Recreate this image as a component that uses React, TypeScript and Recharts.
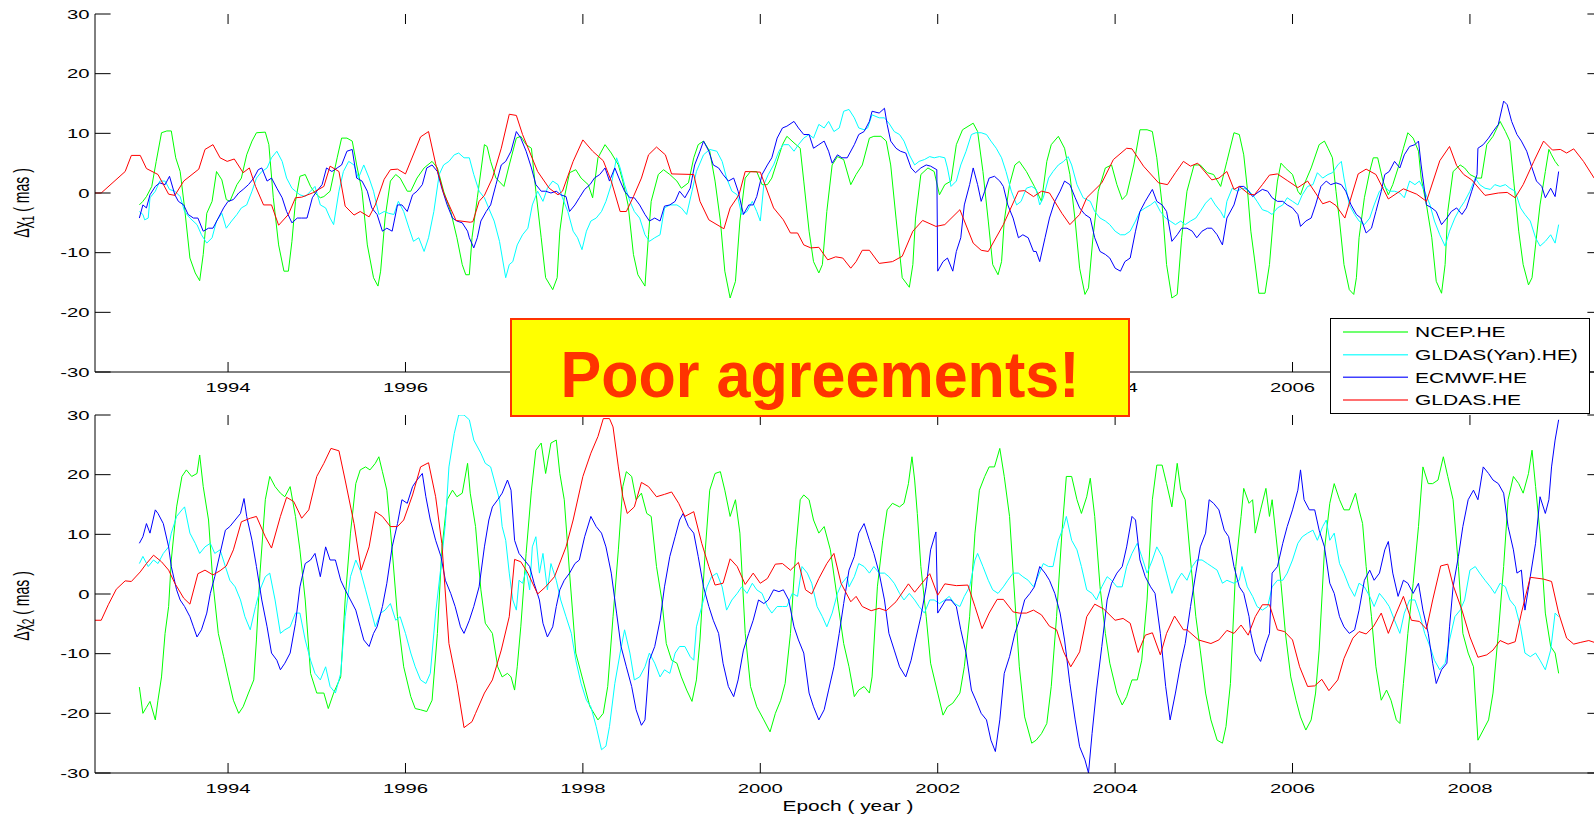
import React from 'react';
import { LineChart, Line, XAxis, YAxis } from 'recharts';

// ---------- data: [epoch (year), excitation (mas)] ----------

// Δχ1, NCEP.HE
const chi1Ncep: [number, number][] = [
  [1993.00,-2.0],[1993.04,-1.4],[1993.08,-0.6],[1993.14,1.1],[1993.19,5.3],[1993.25,10.1],[1993.31,10.4],[1993.36,10.4],[1993.41,5.9],[1993.46,3.6],[1993.51,-2.5],[1993.57,-10.9],[1993.63,-13.4],[1993.68,-14.7],[1993.72,-10.3],[1993.76,-3.4],[1993.82,-1.4],[1993.87,3.6],[1993.93,2.2],[1993.98,-1.1],[1994.02,-1.4],[1994.10,1.4],[1994.15,2.5],[1994.21,6.4],[1994.27,8.7],[1994.32,10.1],[1994.42,10.2],[1994.46,8.1],[1994.51,-0.8],[1994.57,-8.7],[1994.63,-13.1],[1994.68,-13.1],[1994.72,-8.1],[1994.76,-1.4],[1994.81,2.8],[1994.87,3.1],[1994.93,1.1],[1994.98,0],[1995.04,-0.8],[1995.08,-0.6],[1995.15,0.3],[1995.23,5.9],[1995.28,9.2],[1995.34,9.2],[1995.40,8.7],[1995.45,4.7],[1995.51,0.3],[1995.57,-8.7],[1995.64,-14.2],[1995.69,-15.6],[1995.72,-13.1],[1995.77,-4.2],[1995.83,2.0],[1995.89,3.1],[1995.94,2.5],[1996.02,0.3],[1996.06,0.3],[1996.13,2.5],[1996.21,4.2],[1996.30,5.3],[1996.36,4.2],[1996.43,0.3],[1996.51,-3.1],[1996.58,-7.5],[1996.64,-12.0],[1996.68,-13.7],[1996.72,-13.7],[1996.75,-7.5],[1996.81,-0.8],[1996.89,8.1],[1996.92,7.8],[1996.96,5.3],[1997.02,2.5],[1997.11,1.1],[1997.17,4.7],[1997.25,9.2],[1997.30,9.5],[1997.36,8.1],[1997.42,7.5],[1997.47,0.3],[1997.53,-7.5],[1997.58,-14.2],[1997.66,-16.2],[1997.71,-14.2],[1997.74,-6.4],[1997.79,-0.8],[1997.85,3.4],[1997.92,3.9],[1997.98,2.5],[1998.06,1.4],[1998.11,-0.8],[1998.17,5.9],[1998.25,8.1],[1998.32,6.7],[1998.40,4.7],[1998.45,2.0],[1998.51,-2.0],[1998.57,-10.3],[1998.62,-13.7],[1998.70,-15.6],[1998.74,-7.0],[1998.77,-1.4],[1998.85,3.1],[1998.91,3.9],[1998.98,3.1],[1999.06,2.0],[1999.11,0.8],[1999.19,1.7],[1999.25,5.9],[1999.30,8.1],[1999.36,8.7],[1999.43,7.0],[1999.49,2.0],[1999.55,-4.7],[1999.60,-13.1],[1999.66,-17.6],[1999.72,-14.8],[1999.77,-4.7],[1999.83,2.5],[1999.89,3.6],[1999.96,3.6],[2000.02,1.4],[2000.08,1.4],[2000.13,2.5],[2000.19,5.3],[2000.25,8.1],[2000.30,9.5],[2000.38,8.4],[2000.45,7.5],[2000.49,2.0],[2000.55,-6.4],[2000.60,-11.5],[2000.66,-13.4],[2000.70,-12.0],[2000.75,-3.1],[2000.81,4.7],[2000.87,6.1],[2000.94,5.6],[2001.02,1.4],[2001.08,3.1],[2001.15,4.7],[2001.23,9.2],[2001.28,9.5],[2001.36,9.5],[2001.42,8.7],[2001.47,4.7],[2001.53,-4.2],[2001.60,-14.2],[2001.68,-15.8],[2001.72,-12.0],[2001.75,-4.2],[2001.81,3.1],[2001.89,4.2],[2001.96,3.6],[2002.02,-0.3],[2002.08,1.4],[2002.15,2.0],[2002.21,8.1],[2002.28,10.6],[2002.40,11.7],[2002.45,10.3],[2002.51,3.6],[2002.57,-4.7],[2002.62,-12.0],[2002.68,-13.7],[2002.72,-11.5],[2002.75,-4.7],[2002.81,1.4],[2002.87,4.7],[2002.92,5.3],[2003.00,3.6],[2003.09,1.1],[2003.17,-1.4],[2003.23,5.3],[2003.28,8.1],[2003.36,9.5],[2003.43,7.5],[2003.49,3.1],[2003.55,-4.7],[2003.60,-12.6],[2003.66,-17.0],[2003.70,-15.9],[2003.75,-7.5],[2003.81,0.3],[2003.89,4.2],[2003.96,4.7],[2004.02,1.4],[2004.08,-1.1],[2004.13,-0.3],[2004.21,4.7],[2004.28,10.6],[2004.36,10.6],[2004.42,10.3],[2004.47,5.9],[2004.53,-2.0],[2004.58,-12.0],[2004.64,-17.6],[2004.70,-17.0],[2004.75,-7.5],[2004.81,0.3],[2004.89,4.7],[2004.96,4.7],[2005.04,3.4],[2005.11,3.1],[2005.19,1.1],[2005.26,5.3],[2005.34,10.1],[2005.40,9.8],[2005.45,6.4],[2005.49,0.8],[2005.53,-6.4],[2005.57,-10.9],[2005.62,-16.8],[2005.69,-16.8],[2005.74,-12.0],[2005.79,-3.1],[2005.83,2.0],[2005.87,5.0],[2005.92,4.2],[2006.00,3.1],[2006.06,0.3],[2006.09,-0.3],[2006.13,1.4],[2006.21,4.2],[2006.30,8.1],[2006.36,8.7],[2006.40,7.5],[2006.45,5.9],[2006.49,0.3],[2006.53,-4.7],[2006.58,-12.0],[2006.64,-16.2],[2006.69,-17.0],[2006.72,-14.2],[2006.75,-7.5],[2006.81,-0.8],[2006.87,3.6],[2006.91,5.9],[2006.96,5.9],[2007.02,2.0],[2007.08,-0.3],[2007.13,1.4],[2007.19,4.2],[2007.25,7.5],[2007.30,10.1],[2007.36,9.2],[2007.42,7.0],[2007.45,2.5],[2007.51,-2.0],[2007.57,-7.5],[2007.62,-14.8],[2007.68,-16.8],[2007.72,-12.0],[2007.75,-3.1],[2007.81,3.6],[2007.89,4.7],[2007.94,4.2],[2008.00,3.1],[2008.08,2.5],[2008.13,2.5],[2008.19,8.1],[2008.26,9.5],[2008.34,12.0],[2008.40,10.3],[2008.45,8.7],[2008.49,2.5],[2008.55,-6.4],[2008.60,-12.0],[2008.66,-15.4],[2008.70,-14.2],[2008.74,-8.7],[2008.79,-2.0],[2008.85,3.6],[2008.89,7.3],[2008.92,6.4],[2008.96,5.3],[2009.00,4.5],
];

// Δχ1, GLDAS(Yan).HE
const chi1GldasYan: [number, number][] = [
  [1993.00,-3.1],[1993.04,-3.6],[1993.06,-4.5],[1993.10,-4.2],[1993.12,-0.8],[1993.18,0.3],[1993.23,2.0],[1993.29,2.0],[1993.34,0.6],[1993.40,0.3],[1993.46,-0.6],[1993.51,-3.1],[1993.57,-4.2],[1993.65,-5.3],[1993.70,-7.0],[1993.76,-8.4],[1993.82,-7.5],[1993.87,-4.7],[1993.93,-3.4],[1993.98,-5.9],[1994.04,-4.7],[1994.10,-3.6],[1994.15,-2.5],[1994.21,-2.0],[1994.27,0.3],[1994.32,2.5],[1994.38,3.6],[1994.44,4.2],[1994.49,5.9],[1994.55,7.0],[1994.61,5.3],[1994.66,2.5],[1994.72,0.8],[1994.76,0.3],[1994.81,-0.3],[1994.87,-0.6],[1994.93,0.3],[1994.98,1.1],[1995.04,-2.0],[1995.10,-2.5],[1995.15,-4.2],[1995.19,-5.3],[1995.25,0.3],[1995.30,3.6],[1995.36,5.3],[1995.42,4.7],[1995.47,2.5],[1995.53,4.7],[1995.59,2.5],[1995.64,0.3],[1995.70,-3.6],[1995.76,-3.1],[1995.81,-3.4],[1995.87,-3.6],[1995.92,-1.4],[1995.98,-3.1],[1996.04,-5.9],[1996.09,-8.1],[1996.15,-7.5],[1996.21,-9.8],[1996.26,-7.5],[1996.32,-3.1],[1996.38,3.1],[1996.43,4.7],[1996.49,5.3],[1996.55,6.4],[1996.60,6.7],[1996.66,5.9],[1996.72,5.9],[1996.77,3.1],[1996.83,0.3],[1996.89,-0.8],[1996.94,-2.6],[1997.00,-4.7],[1997.06,-8.1],[1997.13,-14.2],[1997.17,-12.0],[1997.21,-11.5],[1997.26,-8.7],[1997.32,-7.0],[1997.38,-5.9],[1997.43,-2.0],[1997.49,0.3],[1997.55,-1.4],[1997.60,0.8],[1997.66,2.0],[1997.72,1.4],[1997.77,-0.8],[1997.83,-3.1],[1997.89,-6.4],[1997.94,-7.5],[1997.99,-9.5],[1998.04,-6.4],[1998.09,-4.7],[1998.15,-4.2],[1998.21,-3.1],[1998.26,-1.4],[1998.32,1.4],[1998.38,5.9],[1998.42,4.2],[1998.47,1.4],[1998.53,-1.4],[1998.58,-3.1],[1998.64,-4.2],[1998.70,-7.0],[1998.75,-8.1],[1998.81,-7.5],[1998.87,-7.0],[1998.92,-2.5],[1998.98,-2.0],[1999.06,-2.0],[1999.11,-2.5],[1999.17,-3.6],[1999.23,0.3],[1999.28,3.6],[1999.36,6.4],[1999.43,7.3],[1999.51,7.0],[1999.57,5.3],[1999.62,2.5],[1999.68,0.3],[1999.74,-0.3],[1999.79,-3.6],[1999.85,-3.1],[1999.91,-1.4],[1999.96,-3.1],[2000.00,-4.7],[2000.04,1.4],[2000.09,3.1],[2000.15,4.7],[2000.21,7.0],[2000.26,8.1],[2000.32,8.1],[2000.38,7.0],[2000.43,8.1],[2000.49,9.2],[2000.55,9.8],[2000.60,9.2],[2000.66,11.5],[2000.72,10.9],[2000.77,12.0],[2000.83,10.3],[2000.89,10.9],[2000.94,13.7],[2001.00,14.0],[2001.06,12.6],[2001.11,10.9],[2001.17,10.6],[2001.21,10.9],[2001.26,13.1],[2001.34,12.6],[2001.40,12.6],[2001.45,11.7],[2001.51,10.3],[2001.57,9.8],[2001.62,8.7],[2001.68,6.4],[2001.74,4.7],[2001.79,5.3],[2001.85,5.6],[2001.91,6.1],[2001.96,5.9],[2002.02,6.1],[2002.08,5.9],[2002.11,4.2],[2002.15,1.1],[2002.21,2.0],[2002.26,4.7],[2002.32,7.0],[2002.38,9.8],[2002.43,10.1],[2002.49,10.1],[2002.55,9.8],[2002.60,8.7],[2002.66,7.5],[2002.72,5.9],[2002.77,3.6],[2002.83,0.3],[2002.89,-2.0],[2002.94,-1.4],[2003.00,0.8],[2003.06,1.1],[2003.11,0.6],[2003.15,-2.0],[2003.19,-0.8],[2003.25,2.5],[2003.30,3.6],[2003.36,4.7],[2003.42,5.3],[2003.47,6.1],[2003.51,4.7],[2003.57,1.4],[2003.64,-0.8],[2003.72,-1.4],[2003.77,-3.1],[2003.83,-4.2],[2003.89,-4.7],[2003.94,-5.3],[2004.00,-6.4],[2004.06,-7.0],[2004.11,-7.0],[2004.17,-6.4],[2004.23,-4.7],[2004.28,-3.1],[2004.34,-2.5],[2004.40,-2.0],[2004.45,-1.4],[2004.51,-3.1],[2004.57,-4.2],[2004.62,-4.7],[2004.68,-5.3],[2004.74,-4.7],[2004.79,-5.3],[2004.85,-4.7],[2004.91,-4.2],[2004.96,-3.1],[2005.02,-1.7],[2005.08,-0.8],[2005.13,-2.0],[2005.19,-3.1],[2005.23,-4.2],[2005.26,-1.4],[2005.32,0.8],[2005.38,0.3],[2005.43,0.8],[2005.49,0.6],[2005.55,-0.3],[2005.60,-1.4],[2005.66,-2.8],[2005.72,-3.1],[2005.77,-3.6],[2005.83,-2.5],[2005.89,-2.0],[2005.94,-0.8],[2006.00,-1.4],[2006.06,-2.0],[2006.11,-0.3],[2006.17,1.1],[2006.23,1.4],[2006.28,3.4],[2006.34,2.5],[2006.40,3.1],[2006.45,3.4],[2006.51,4.7],[2006.55,5.3],[2006.58,2.5],[2006.64,-2.0],[2006.70,-3.6],[2006.75,-4.7],[2006.81,-5.3],[2006.87,-4.2],[2006.92,-2.0],[2006.98,0.3],[2007.04,1.1],[2007.09,0.3],[2007.15,0.3],[2007.21,0],[2007.26,-0.8],[2007.32,2.0],[2007.38,1.4],[2007.43,2.0],[2007.49,0.3],[2007.55,-2.0],[2007.60,-4.7],[2007.66,-7.0],[2007.72,-8.9],[2007.77,-6.4],[2007.83,-4.2],[2007.89,-2.5],[2007.94,-1.4],[2008.00,0.3],[2008.06,2.5],[2008.11,1.4],[2008.17,0.8],[2008.23,0.6],[2008.28,1.4],[2008.34,1.1],[2008.40,1.4],[2008.45,0.8],[2008.51,0.3],[2008.57,-2.5],[2008.62,-3.6],[2008.68,-4.7],[2008.74,-7.5],[2008.79,-8.9],[2008.85,-8.1],[2008.91,-7.0],[2008.96,-8.4],[2009.00,-5.3],
];

// Δχ1, ECMWF.HE (note the step at the start of 2002)
const chi1Ecmwf: [number, number][] = [
  [1993.00,-4.2],[1993.04,-2.0],[1993.08,-2.5],[1993.12,-0.3],[1993.18,1.1],[1993.23,1.7],[1993.29,1.4],[1993.34,2.8],[1993.40,-0.3],[1993.44,-1.4],[1993.50,-2.0],[1993.55,-3.6],[1993.61,-4.2],[1993.66,-4.2],[1993.72,-6.4],[1993.78,-5.9],[1993.83,-5.9],[1993.89,-4.2],[1993.95,-2.5],[1994.00,-1.4],[1994.06,-1.1],[1994.12,0],[1994.17,0.6],[1994.23,1.4],[1994.29,2.5],[1994.34,3.9],[1994.38,4.2],[1994.44,2.0],[1994.49,2.5],[1994.55,0.8],[1994.61,-0.8],[1994.66,-3.1],[1994.72,-5.0],[1994.78,-4.2],[1994.83,-4.2],[1994.89,-4.2],[1994.95,-0.8],[1995.00,0.3],[1995.06,1.4],[1995.11,4.2],[1995.17,3.6],[1995.23,4.2],[1995.28,4.7],[1995.34,7.0],[1995.40,7.3],[1995.45,2.5],[1995.51,2.0],[1995.57,0.3],[1995.62,-2.5],[1995.68,-3.6],[1995.74,-6.4],[1995.79,-5.9],[1995.85,-6.4],[1995.91,-2.0],[1995.96,-2.0],[1996.02,-3.1],[1996.08,-0.3],[1996.13,0.3],[1996.19,1.4],[1996.24,4.2],[1996.30,4.7],[1996.36,3.6],[1996.41,0.8],[1996.47,-2.0],[1996.53,-4.2],[1996.58,-4.7],[1996.64,-5.0],[1996.70,-6.4],[1996.72,-7.5],[1996.77,-9.2],[1996.81,-7.5],[1996.85,-4.7],[1996.91,-3.1],[1996.96,-2.0],[1997.02,1.4],[1997.08,4.7],[1997.13,5.3],[1997.19,7.0],[1997.25,10.3],[1997.30,9.2],[1997.36,7.0],[1997.42,4.2],[1997.47,1.4],[1997.53,0.3],[1997.58,0.3],[1997.64,0],[1997.70,0.3],[1997.75,-0.3],[1997.81,-0.6],[1997.85,-3.1],[1997.91,-2.0],[1997.96,-0.8],[1998.02,0.6],[1998.08,1.4],[1998.13,2.5],[1998.19,3.1],[1998.25,4.2],[1998.30,2.0],[1998.36,4.2],[1998.42,2.0],[1998.47,0.3],[1998.53,-0.8],[1998.58,-0.8],[1998.64,-2.0],[1998.70,-3.6],[1998.75,-4.7],[1998.81,-4.2],[1998.87,-4.7],[1998.92,-2.2],[1998.98,-2.0],[1999.04,-1.4],[1999.09,0.3],[1999.15,-0.8],[1999.21,0.8],[1999.26,4.7],[1999.32,7.0],[1999.36,8.7],[1999.42,7.0],[1999.47,4.7],[1999.53,4.2],[1999.58,3.1],[1999.64,2.0],[1999.70,2.5],[1999.75,0.3],[1999.81,-3.6],[1999.87,-2.0],[1999.92,-2.0],[1999.96,-0.6],[2000.02,3.1],[2000.08,4.7],[2000.13,5.9],[2000.19,9.2],[2000.25,10.9],[2000.30,11.2],[2000.38,12.0],[2000.43,10.9],[2000.49,9.8],[2000.55,9.8],[2000.60,7.5],[2000.66,8.1],[2000.72,8.7],[2000.77,7.0],[2000.81,5.0],[2000.87,6.4],[2000.92,5.9],[2000.98,5.9],[2001.06,8.1],[2001.11,9.8],[2001.17,10.3],[2001.23,12.0],[2001.26,13.7],[2001.34,13.4],[2001.40,14.2],[2001.43,11.5],[2001.47,8.7],[2001.53,7.5],[2001.58,7.0],[2001.64,6.7],[2001.70,4.2],[2001.75,3.4],[2001.81,4.2],[2001.87,4.7],[2001.92,4.5],[2001.99,3.9],[2002.00,-13.1],[2002.06,-11.5],[2002.11,-10.9],[2002.17,-13.1],[2002.21,-9.8],[2002.26,-7.5],[2002.30,-2.0],[2002.36,1.4],[2002.40,4.2],[2002.45,1.4],[2002.49,-1.4],[2002.53,0.3],[2002.58,2.5],[2002.64,2.8],[2002.70,2.0],[2002.74,1.1],[2002.79,-2.0],[2002.85,-4.2],[2002.91,-7.5],[2002.96,-7.0],[2003.02,-7.5],[2003.08,-9.8],[2003.11,-9.8],[2003.15,-11.5],[2003.21,-7.5],[2003.26,-4.2],[2003.32,-1.4],[2003.38,0.3],[2003.43,2.0],[2003.49,1.4],[2003.55,-0.8],[2003.60,-2.5],[2003.66,-3.6],[2003.72,-4.2],[2003.77,-7.5],[2003.83,-9.8],[2003.89,-10.3],[2003.94,-10.9],[2004.00,-12.6],[2004.06,-13.1],[2004.11,-11.5],[2004.17,-10.9],[2004.23,-6.4],[2004.28,-3.1],[2004.34,-1.4],[2004.42,0.6],[2004.47,-1.4],[2004.53,-2.0],[2004.58,-3.1],[2004.64,-8.1],[2004.70,-7.0],[2004.75,-5.9],[2004.81,-5.9],[2004.87,-6.4],[2004.92,-7.5],[2004.98,-6.4],[2005.04,-5.9],[2005.09,-5.9],[2005.15,-7.0],[2005.21,-8.7],[2005.26,-4.2],[2005.34,-2.0],[2005.40,1.1],[2005.45,1.1],[2005.49,0.6],[2005.55,-0.6],[2005.60,0],[2005.66,0.6],[2005.72,0.3],[2005.77,-0.8],[2005.83,-1.4],[2005.89,-1.4],[2005.94,-2.0],[2006.00,-2.5],[2006.06,-3.6],[2006.09,-5.6],[2006.15,-4.7],[2006.21,-4.2],[2006.26,-2.0],[2006.32,1.1],[2006.38,2.0],[2006.43,1.4],[2006.49,1.7],[2006.55,1.4],[2006.60,0.3],[2006.66,-2.0],[2006.72,-3.6],[2006.77,-4.2],[2006.83,-6.7],[2006.89,-5.9],[2006.94,-3.1],[2007.00,0.3],[2007.04,3.1],[2007.09,3.6],[2007.15,5.3],[2007.21,4.2],[2007.26,6.4],[2007.32,7.8],[2007.38,8.1],[2007.42,8.7],[2007.45,4.7],[2007.51,-2.0],[2007.57,-2.5],[2007.62,-3.1],[2007.68,-5.3],[2007.74,-4.2],[2007.79,-3.1],[2007.85,-2.5],[2007.91,-3.6],[2007.96,-2.5],[2008.02,0.3],[2008.08,3.1],[2008.09,7.5],[2008.15,8.1],[2008.21,9.2],[2008.26,10.3],[2008.32,11.5],[2008.38,15.4],[2008.42,14.8],[2008.47,12.0],[2008.53,9.8],[2008.58,8.7],[2008.64,7.0],[2008.70,4.2],[2008.75,2.0],[2008.81,1.1],[2008.85,-0.8],[2008.91,0.8],[2008.96,-0.6],[2009.00,3.6],
];

// Δχ1, GLDAS.HE
const chi1Gldas: [number, number][] = [
  [1992.50,0],[1992.57,0],[1992.84,3.6],[1992.91,6.3],[1993.01,6.3],[1993.08,4.1],[1993.21,3.1],[1993.33,-0.2],[1993.40,-0.4],[1993.50,2.0],[1993.67,4.0],[1993.74,7.3],[1993.83,8.1],[1993.91,5.9],[1993.99,5.3],[1994.07,5.7],[1994.17,3.4],[1994.24,4.2],[1994.31,1.1],[1994.40,-2.0],[1994.49,-2.0],[1994.57,-5.4],[1994.68,-3.6],[1994.76,-0.8],[1994.83,-0.7],[1994.95,0],[1995.08,1.1],[1995.15,4.5],[1995.25,3.6],[1995.32,-2.2],[1995.42,-3.7],[1995.49,-3.1],[1995.59,-4.0],[1995.66,-2.0],[1995.76,2.3],[1995.83,3.9],[1995.91,4.0],[1996.00,3.2],[1996.17,9.4],[1996.26,10.3],[1996.34,4.9],[1996.43,0],[1996.57,-4.6],[1996.73,-4.9],[1996.76,-4.8],[1996.83,-1.4],[1996.89,-0.4],[1996.98,2.5],[1997.08,7.5],[1997.17,13.2],[1997.25,13.0],[1997.32,9.8],[1997.49,3.6],[1997.62,0.8],[1997.72,-0.3],[1997.77,0.3],[1997.89,5.3],[1998.00,8.9],[1998.11,7.0],[1998.23,5.4],[1998.32,2.0],[1998.42,-3.1],[1998.49,-3.1],[1998.57,-0.6],[1998.66,2.5],[1998.74,6.4],[1998.83,7.7],[1998.93,6.4],[1999.00,3.2],[1999.25,3.1],[1999.32,-1.4],[1999.42,-4.5],[1999.59,-6.0],[1999.66,-2.5],[1999.76,-0.3],[1999.83,3.6],[2000.00,3.5],[2000.15,-2.5],[2000.26,-4.5],[2000.34,-6.7],[2000.42,-6.7],[2000.49,-8.7],[2000.57,-9.2],[2000.66,-9.1],[2000.76,-11.2],[2000.85,-10.7],[2000.93,-10.9],[2001.02,-12.6],[2001.08,-11.5],[2001.15,-9.6],[2001.23,-9.6],[2001.34,-11.8],[2001.49,-11.5],[2001.60,-10.6],[2001.72,-6.4],[2001.83,-4.6],[2001.98,-5.6],[2002.08,-5.3],[2002.25,-2.8],[2002.40,-8.4],[2002.49,-9.6],[2002.57,-9.8],[2002.74,-5.3],[2002.91,0.3],[2002.98,0.4],[2003.08,-0.6],[2003.17,0.3],[2003.26,0],[2003.40,-3.4],[2003.49,-5.3],[2003.60,-3.6],[2003.68,-0.8],[2003.85,1.7],[2003.98,5.6],[2004.13,7.5],[2004.19,7.4],[2004.32,4.5],[2004.49,1.7],[2004.59,1.4],[2004.68,3.4],[2004.77,5.3],[2004.85,4.5],[2004.93,5.0],[2005.09,2.2],[2005.17,2.5],[2005.26,3.6],[2005.34,0.6],[2005.40,1.1],[2005.51,-0.2],[2005.57,-0.3],[2005.66,1.4],[2005.74,3.0],[2005.83,3.2],[2005.94,2.1],[2006.06,0.9],[2006.17,2.0],[2006.34,-1.8],[2006.42,-1.4],[2006.49,-2.1],[2006.59,-4.2],[2006.74,3.2],[2006.83,4.0],[2006.94,3.1],[2007.08,-1.0],[2007.25,0.7],[2007.40,-0.2],[2007.51,-1.4],[2007.66,5.4],[2007.77,7.8],[2007.85,4.6],[2007.93,3.1],[2008.02,2.2],[2008.17,-0.4],[2008.32,0],[2008.42,0.1],[2008.51,-0.8],[2008.60,1.4],[2008.72,5.3],[2008.83,8.7],[2008.93,7.2],[2009.02,7.3],[2009.09,6.7],[2009.17,7.4],[2009.28,5.3],[2009.40,2.5],[2009.50,1.2],
];

// Δχ2, NCEP.HE
const chi2Ncep: [number, number][] = [
  [1993.00,-15.6],[1993.04,-20.0],[1993.08,-19.0],[1993.12,-18.0],[1993.18,-21.1],[1993.21,-17.8],[1993.25,-13.9],[1993.29,-6.6],[1993.33,-2.1],[1993.36,5.7],[1993.42,14.6],[1993.48,19.7],[1993.53,20.8],[1993.59,19.7],[1993.65,20.2],[1993.68,23.3],[1993.72,18.0],[1993.78,12.4],[1993.83,1.8],[1993.89,-6.6],[1993.95,-10.5],[1994.00,-13.9],[1994.06,-17.8],[1994.12,-20.0],[1994.17,-18.9],[1994.23,-16.6],[1994.29,-14.4],[1994.32,-7.7],[1994.36,3.5],[1994.42,15.8],[1994.47,19.7],[1994.53,18.0],[1994.59,16.9],[1994.64,16.3],[1994.70,18.0],[1994.76,13.0],[1994.81,7.4],[1994.87,-1.0],[1994.93,-13.3],[1995.00,-16.6],[1995.08,-16.6],[1995.13,-19.2],[1995.19,-16.6],[1995.27,-13.9],[1995.32,-1.0],[1995.38,10.2],[1995.44,18.5],[1995.49,20.8],[1995.55,21.3],[1995.60,20.8],[1995.66,21.9],[1995.70,23.0],[1995.74,20.5],[1995.79,17.4],[1995.85,7.4],[1995.91,-3.8],[1995.98,-12.2],[1996.06,-17.2],[1996.11,-19.2],[1996.17,-19.4],[1996.24,-19.7],[1996.30,-17.8],[1996.36,-6.6],[1996.41,7.4],[1996.47,15.8],[1996.53,17.4],[1996.58,16.3],[1996.64,16.9],[1996.70,21.9],[1996.73,16.9],[1996.79,11.3],[1996.85,0.7],[1996.90,-4.9],[1996.98,-6.6],[1997.04,-12.2],[1997.09,-13.9],[1997.15,-13.3],[1997.19,-13.9],[1997.23,-16.1],[1997.26,-12.2],[1997.30,-5.5],[1997.36,6.8],[1997.42,17.4],[1997.47,24.1],[1997.53,25.3],[1997.58,20.2],[1997.64,25.3],[1997.70,25.8],[1997.74,20.2],[1997.79,15.8],[1997.85,3.5],[1997.92,-9.9],[1998.00,-14.4],[1998.08,-18.9],[1998.17,-21.1],[1998.23,-20.0],[1998.28,-15.5],[1998.34,-3.8],[1998.40,7.4],[1998.45,18.0],[1998.49,20.5],[1998.55,19.7],[1998.60,15.8],[1998.66,16.9],[1998.72,13.5],[1998.77,13.0],[1998.83,4.6],[1998.89,-1.0],[1998.94,-8.3],[1999.00,-11.1],[1999.06,-11.6],[1999.11,-13.9],[1999.17,-16.1],[1999.23,-18.0],[1999.28,-14.4],[1999.32,-7.7],[1999.38,7.4],[1999.43,17.4],[1999.49,20.2],[1999.55,20.5],[1999.60,17.4],[1999.66,13.0],[1999.72,15.8],[1999.77,10.2],[1999.83,-6.6],[1999.89,-15.5],[1999.96,-18.9],[2000.04,-21.1],[2000.11,-23.1],[2000.17,-20.0],[2000.23,-17.8],[2000.28,-15.0],[2000.34,-6.6],[2000.40,7.4],[2000.45,15.8],[2000.49,16.6],[2000.55,15.8],[2000.60,12.4],[2000.66,10.2],[2000.72,11.3],[2000.79,7.4],[2000.87,-1.0],[2000.94,-8.3],[2001.00,-12.2],[2001.06,-17.2],[2001.11,-16.1],[2001.17,-15.5],[2001.23,-16.6],[2001.26,-13.9],[2001.32,1.2],[2001.38,9.0],[2001.43,14.1],[2001.49,15.2],[2001.57,14.6],[2001.62,15.2],[2001.67,18.5],[2001.71,23.0],[2001.74,19.1],[2001.77,13.5],[2001.81,4.6],[2001.87,-3.8],[2001.92,-11.6],[2002.00,-16.6],[2002.06,-20.3],[2002.11,-18.9],[2002.17,-18.3],[2002.25,-16.6],[2002.30,-12.2],[2002.36,-3.8],[2002.42,10.2],[2002.47,17.4],[2002.53,19.7],[2002.58,21.3],[2002.64,21.3],[2002.70,24.4],[2002.75,19.7],[2002.81,13.0],[2002.87,-1.0],[2002.92,-12.2],[2002.98,-20.6],[2003.06,-25.0],[2003.11,-24.5],[2003.17,-23.4],[2003.23,-21.7],[2003.28,-15.5],[2003.34,-3.8],[2003.40,10.2],[2003.45,19.7],[2003.51,19.7],[2003.57,15.8],[2003.62,13.5],[2003.68,16.3],[2003.72,19.4],[2003.77,13.0],[2003.83,1.2],[2003.89,-6.6],[2003.94,-11.6],[2004.02,-16.6],[2004.08,-18.6],[2004.13,-17.2],[2004.19,-14.4],[2004.25,-14.4],[2004.30,-11.1],[2004.36,-1.0],[2004.42,15.8],[2004.47,21.6],[2004.53,21.6],[2004.58,18.5],[2004.64,14.6],[2004.70,21.9],[2004.74,17.4],[2004.79,15.8],[2004.85,5.7],[2004.91,-3.8],[2004.96,-9.4],[2005.02,-16.6],[2005.08,-21.1],[2005.15,-24.5],[2005.21,-25.0],[2005.25,-22.2],[2005.30,-15.0],[2005.36,4.6],[2005.42,13.0],[2005.45,17.7],[2005.51,15.2],[2005.55,15.8],[2005.58,10.2],[2005.64,14.1],[2005.70,17.7],[2005.74,13.0],[2005.77,15.8],[2005.81,10.2],[2005.87,1.8],[2005.92,-6.6],[2005.98,-13.9],[2006.04,-17.8],[2006.09,-20.6],[2006.15,-22.8],[2006.21,-21.1],[2006.26,-16.6],[2006.30,-9.4],[2006.36,7.4],[2006.42,15.2],[2006.47,18.5],[2006.53,15.8],[2006.58,14.1],[2006.64,14.1],[2006.71,16.9],[2006.75,14.1],[2006.79,11.8],[2006.83,4.6],[2006.89,-3.8],[2006.94,-12.2],[2007.00,-17.8],[2007.06,-16.1],[2007.11,-17.8],[2007.17,-21.1],[2007.21,-21.7],[2007.25,-15.0],[2007.30,-6.6],[2007.36,1.8],[2007.42,11.3],[2007.47,21.3],[2007.53,18.5],[2007.58,18.5],[2007.64,19.1],[2007.70,23.0],[2007.75,19.7],[2007.81,15.8],[2007.87,4.6],[2007.92,-6.6],[2007.98,-9.9],[2008.04,-12.2],[2008.09,-24.5],[2008.15,-22.8],[2008.21,-21.1],[2008.26,-16.6],[2008.32,-6.6],[2008.38,4.6],[2008.43,15.8],[2008.49,19.7],[2008.55,18.5],[2008.60,16.9],[2008.66,20.2],[2008.70,24.1],[2008.74,18.0],[2008.79,10.2],[2008.85,-3.2],[2008.91,-8.8],[2008.96,-9.9],[2009.00,-13.3],
];

// Δχ2, GLDAS(Yan).HE
const chi2GldasYan: [number, number][] = [
  [1993.00,5.1],[1993.04,6.3],[1993.10,4.6],[1993.16,5.7],[1993.21,5.1],[1993.27,6.8],[1993.33,7.9],[1993.36,10.2],[1993.42,13.0],[1993.48,14.1],[1993.51,14.6],[1993.57,10.2],[1993.63,8.5],[1993.68,6.8],[1993.74,7.9],[1993.80,8.5],[1993.85,6.8],[1993.91,7.4],[1993.97,4.6],[1994.02,2.3],[1994.08,1.2],[1994.14,-1.0],[1994.19,-3.8],[1994.25,-6.0],[1994.31,-2.1],[1994.36,0.7],[1994.42,2.9],[1994.47,3.5],[1994.53,-1.0],[1994.59,-6.6],[1994.64,-6.0],[1994.70,-5.5],[1994.76,-3.2],[1994.81,-3.2],[1994.87,-7.7],[1994.93,-11.1],[1994.98,-13.3],[1995.04,-14.4],[1995.10,-12.2],[1995.15,-15.5],[1995.21,-16.6],[1995.27,-13.3],[1995.32,-3.8],[1995.38,2.9],[1995.44,5.7],[1995.49,4.0],[1995.55,0.7],[1995.60,-2.1],[1995.66,-5.5],[1995.72,-3.2],[1995.77,-2.7],[1995.83,-1.6],[1995.89,-4.4],[1995.94,-3.8],[1996.00,-6.6],[1996.06,-9.9],[1996.11,-12.2],[1996.17,-14.4],[1996.23,-15.0],[1996.28,-13.3],[1996.34,-3.2],[1996.40,4.6],[1996.45,11.8],[1996.49,21.3],[1996.55,26.9],[1996.60,30.0],[1996.66,30.0],[1996.72,29.2],[1996.77,25.8],[1996.85,23.6],[1996.90,21.9],[1996.96,21.3],[1997.00,19.1],[1997.06,15.8],[1997.09,11.3],[1997.13,9.0],[1997.17,3.5],[1997.21,-1.0],[1997.25,-2.7],[1997.28,2.3],[1997.32,1.8],[1997.36,4.0],[1997.40,0.7],[1997.43,7.9],[1997.47,9.6],[1997.51,3.5],[1997.55,6.8],[1997.60,0.7],[1997.64,5.1],[1997.70,2.3],[1997.75,-1.0],[1997.81,-3.8],[1997.87,-6.6],[1997.92,-11.1],[1997.98,-15.0],[1998.04,-17.8],[1998.09,-18.9],[1998.15,-22.2],[1998.21,-26.1],[1998.26,-25.5],[1998.30,-22.2],[1998.36,-15.0],[1998.42,-9.9],[1998.47,-6.0],[1998.53,-9.9],[1998.58,-14.4],[1998.64,-13.9],[1998.70,-12.2],[1998.75,-9.9],[1998.81,-11.6],[1998.87,-13.9],[1998.92,-12.7],[1998.98,-13.3],[1999.04,-9.9],[1999.09,-8.8],[1999.15,-8.8],[1999.21,-10.5],[1999.25,-11.1],[1999.28,-5.5],[1999.34,-2.1],[1999.40,1.2],[1999.45,2.9],[1999.51,3.5],[1999.57,1.2],[1999.62,-2.7],[1999.68,-1.0],[1999.74,0.1],[1999.79,1.2],[1999.85,0.1],[1999.91,1.8],[1999.96,0.7],[2000.02,0.1],[2000.08,-2.1],[2000.13,-3.2],[2000.19,-2.1],[2000.25,-2.1],[2000.30,-2.1],[2000.36,0.1],[2000.42,-0.4],[2000.47,4.6],[2000.53,3.5],[2000.58,1.8],[2000.64,-2.1],[2000.70,-3.8],[2000.75,-5.5],[2000.81,-3.2],[2000.87,0.1],[2000.92,1.8],[2000.98,2.9],[2001.00,1.2],[2001.06,2.9],[2001.11,5.1],[2001.17,4.6],[2001.23,3.5],[2001.28,4.6],[2001.34,3.5],[2001.40,3.5],[2001.45,2.9],[2001.51,1.8],[2001.57,0.1],[2001.62,-1.0],[2001.68,0.1],[2001.74,-1.0],[2001.79,-2.1],[2001.85,-3.2],[2001.91,-1.0],[2001.96,-1.0],[2002.02,-1.6],[2002.08,-1.0],[2002.13,-0.4],[2002.19,-1.6],[2002.25,-2.1],[2002.30,-0.4],[2002.36,1.2],[2002.42,5.7],[2002.45,6.8],[2002.51,4.6],[2002.57,2.3],[2002.62,0.7],[2002.68,0.1],[2002.74,1.2],[2002.79,2.3],[2002.85,3.5],[2002.91,3.5],[2002.96,2.9],[2003.02,2.3],[2003.08,1.2],[2003.13,2.9],[2003.19,5.1],[2003.25,4.6],[2003.30,4.6],[2003.36,9.0],[2003.42,11.3],[2003.45,13.0],[2003.51,9.0],[2003.57,7.4],[2003.62,4.6],[2003.68,0.7],[2003.74,0.1],[2003.79,-1.0],[2003.85,1.2],[2003.91,2.9],[2003.96,2.3],[2004.02,1.2],[2004.08,1.2],[2004.13,4.6],[2004.19,6.8],[2004.25,8.5],[2004.30,6.3],[2004.36,3.5],[2004.42,5.7],[2004.47,7.9],[2004.53,6.3],[2004.58,3.5],[2004.64,0.1],[2004.70,2.3],[2004.75,3.5],[2004.81,2.3],[2004.87,4.6],[2004.92,5.7],[2004.98,5.7],[2005.04,5.1],[2005.09,4.6],[2005.15,4.0],[2005.21,1.8],[2005.26,2.3],[2005.34,1.8],[2005.40,2.3],[2005.43,4.6],[2005.49,1.2],[2005.55,-0.4],[2005.60,-2.1],[2005.66,-2.7],[2005.72,-2.1],[2005.77,1.2],[2005.83,2.3],[2005.89,2.3],[2005.94,3.5],[2006.00,5.7],[2006.06,8.5],[2006.11,9.6],[2006.17,10.2],[2006.23,10.7],[2006.28,9.0],[2006.34,11.3],[2006.38,12.4],[2006.42,9.0],[2006.47,10.2],[2006.53,5.1],[2006.58,3.5],[2006.64,1.2],[2006.70,-0.4],[2006.75,1.8],[2006.81,1.2],[2006.87,-0.4],[2006.92,-2.1],[2006.98,0.1],[2007.04,-1.0],[2007.09,-2.1],[2007.15,-4.4],[2007.21,-6.6],[2007.26,-3.2],[2007.32,-1.0],[2007.38,-1.0],[2007.43,-3.2],[2007.49,-6.6],[2007.55,-8.8],[2007.60,-11.1],[2007.66,-12.7],[2007.72,-11.6],[2007.77,-7.7],[2007.83,-3.8],[2007.89,-2.7],[2007.94,-1.0],[2008.00,4.0],[2008.06,4.6],[2008.11,3.5],[2008.17,2.3],[2008.23,1.2],[2008.28,0.1],[2008.34,1.8],[2008.40,1.2],[2008.45,-1.0],[2008.51,-2.1],[2008.57,-5.5],[2008.62,-9.9],[2008.68,-10.5],[2008.74,-9.9],[2008.79,-11.1],[2008.85,-12.7],[2008.91,-9.4],[2008.96,-3.2],[2009.00,-3.8],
];

// Δχ2, ECMWF.HE
const chi2Ecmwf: [number, number][] = [
  [1993.00,8.5],[1993.04,9.6],[1993.08,11.8],[1993.12,10.2],[1993.18,14.1],[1993.21,13.5],[1993.27,11.8],[1993.33,7.9],[1993.36,4.6],[1993.42,0.7],[1993.46,-1.0],[1993.51,-2.1],[1993.57,-3.8],[1993.61,-5.5],[1993.65,-7.2],[1993.70,-6.0],[1993.76,-3.2],[1993.80,0.1],[1993.85,2.9],[1993.91,6.8],[1993.97,10.7],[1994.02,11.3],[1994.08,12.4],[1994.14,13.5],[1994.18,16.0],[1994.21,13.0],[1994.27,9.0],[1994.32,4.6],[1994.38,-1.0],[1994.44,-5.5],[1994.49,-9.9],[1994.55,-11.1],[1994.59,-12.7],[1994.64,-11.6],[1994.70,-9.9],[1994.76,-4.9],[1994.81,1.2],[1994.87,5.1],[1994.93,5.7],[1994.98,6.8],[1995.04,2.9],[1995.10,7.9],[1995.15,5.7],[1995.21,5.7],[1995.27,2.3],[1995.32,0.7],[1995.38,-1.0],[1995.44,-2.7],[1995.49,-5.5],[1995.53,-7.7],[1995.59,-8.8],[1995.64,-6.6],[1995.68,-5.5],[1995.74,-2.1],[1995.79,1.8],[1995.85,7.9],[1995.91,11.8],[1995.96,15.8],[1996.02,15.2],[1996.08,18.0],[1996.13,19.1],[1996.19,20.2],[1996.23,16.3],[1996.28,12.4],[1996.34,9.0],[1996.40,6.3],[1996.45,2.3],[1996.51,0.1],[1996.56,-2.1],[1996.62,-5.5],[1996.66,-6.6],[1996.72,-4.4],[1996.77,-2.1],[1996.83,1.2],[1996.89,7.9],[1996.94,12.4],[1996.98,14.6],[1997.04,15.8],[1997.09,16.9],[1997.15,19.1],[1997.19,17.4],[1997.23,9.0],[1997.28,6.8],[1997.34,5.7],[1997.40,4.6],[1997.45,1.8],[1997.51,-1.0],[1997.55,-4.9],[1997.60,-7.2],[1997.66,-5.5],[1997.70,-2.1],[1997.74,0.7],[1997.79,2.3],[1997.85,3.5],[1997.91,5.1],[1997.96,5.7],[1998.02,9.6],[1998.09,13.0],[1998.15,11.3],[1998.21,10.2],[1998.26,7.9],[1998.32,3.5],[1998.38,-3.2],[1998.43,-8.8],[1998.49,-12.2],[1998.55,-15.5],[1998.60,-19.4],[1998.66,-22.0],[1998.70,-21.1],[1998.75,-11.1],[1998.81,-8.8],[1998.87,-4.4],[1998.92,1.2],[1998.98,6.3],[1999.04,9.6],[1999.09,12.4],[1999.13,13.5],[1999.19,11.3],[1999.25,10.2],[1999.30,6.3],[1999.36,1.2],[1999.42,-2.1],[1999.47,-4.4],[1999.53,-6.6],[1999.58,-11.6],[1999.64,-15.5],[1999.70,-17.2],[1999.75,-14.4],[1999.81,-9.4],[1999.87,-6.6],[1999.92,-4.4],[1999.98,-1.0],[2000.04,-1.6],[2000.09,-1.0],[2000.15,0.7],[2000.21,0.4],[2000.26,0.7],[2000.32,-1.0],[2000.38,-5.5],[2000.43,-7.7],[2000.49,-9.9],[2000.55,-16.6],[2000.60,-18.9],[2000.66,-21.1],[2000.72,-19.4],[2000.77,-16.1],[2000.83,-12.2],[2000.89,-6.6],[2000.94,-1.6],[2001.00,4.0],[2001.06,6.3],[2001.11,10.2],[2001.17,11.8],[2001.23,9.0],[2001.28,6.8],[2001.34,3.5],[2001.40,-1.0],[2001.45,-6.6],[2001.51,-9.4],[2001.57,-12.2],[2001.64,-13.9],[2001.70,-11.1],[2001.75,-7.7],[2001.81,-3.8],[2001.87,1.2],[2001.92,7.4],[2001.98,10.4],[2002.00,-3.2],[2002.09,-1.0],[2002.15,-1.0],[2002.21,-2.1],[2002.26,-6.0],[2002.32,-9.9],[2002.38,-16.1],[2002.43,-17.8],[2002.49,-20.0],[2002.55,-21.1],[2002.60,-24.5],[2002.65,-26.4],[2002.70,-21.1],[2002.75,-13.3],[2002.81,-10.5],[2002.87,-6.6],[2002.92,-4.4],[2002.98,-1.0],[2003.04,0.1],[2003.09,1.2],[2003.15,4.6],[2003.21,3.5],[2003.26,2.3],[2003.32,0.1],[2003.38,-3.2],[2003.43,-7.7],[2003.49,-15.0],[2003.55,-21.1],[2003.60,-25.6],[2003.66,-27.8],[2003.70,-30.0],[2003.74,-23.4],[2003.79,-16.1],[2003.85,-8.8],[2003.91,-1.0],[2003.96,1.8],[2004.02,3.5],[2004.08,4.6],[2004.13,7.9],[2004.19,13.0],[2004.23,12.4],[2004.28,5.7],[2004.34,2.9],[2004.40,1.2],[2004.45,0.1],[2004.51,-6.6],[2004.57,-15.5],[2004.62,-21.1],[2004.68,-16.6],[2004.74,-11.6],[2004.79,-8.3],[2004.85,-2.1],[2004.91,3.5],[2004.96,7.9],[2005.02,10.2],[2005.06,15.8],[2005.11,15.2],[2005.17,14.1],[2005.23,10.7],[2005.28,9.6],[2005.34,4.6],[2005.40,1.2],[2005.45,0.1],[2005.51,-3.8],[2005.53,-6.6],[2005.58,-9.9],[2005.64,-11.3],[2005.70,-8.3],[2005.74,-6.6],[2005.77,3.5],[2005.83,4.6],[2005.89,8.5],[2005.94,11.3],[2006.00,14.1],[2006.06,17.4],[2006.09,20.8],[2006.13,15.8],[2006.19,14.1],[2006.25,14.1],[2006.30,10.7],[2006.36,7.9],[2006.42,1.8],[2006.47,0.1],[2006.53,-3.8],[2006.58,-5.5],[2006.64,-6.6],[2006.70,-6.0],[2006.75,-2.7],[2006.81,2.3],[2006.87,4.0],[2006.92,2.3],[2006.98,3.5],[2007.04,7.4],[2007.08,8.8],[2007.13,3.5],[2007.19,-0.4],[2007.25,2.3],[2007.30,1.8],[2007.36,0.1],[2007.42,1.8],[2007.47,-2.7],[2007.53,-6.6],[2007.58,-11.6],[2007.62,-15.0],[2007.68,-12.7],[2007.74,-11.6],[2007.77,-5.5],[2007.81,1.2],[2007.87,6.3],[2007.92,11.3],[2007.98,15.8],[2008.04,17.4],[2008.09,15.8],[2008.15,21.3],[2008.21,20.2],[2008.26,19.1],[2008.32,18.5],[2008.38,16.9],[2008.43,11.3],[2008.49,7.4],[2008.53,3.5],[2008.58,4.0],[2008.62,-2.7],[2008.68,2.9],[2008.74,8.5],[2008.79,16.3],[2008.85,13.5],[2008.89,15.8],[2008.92,21.3],[2008.96,25.8],[2009.00,29.2],
];

// Δχ2, GLDAS.HE
const chi2Gldas: [number, number][] = [
  [1992.50,-4.4],[1992.57,-4.4],[1992.65,-1.8],[1992.74,0.8],[1992.84,2.2],[1992.91,2.1],[1993.01,3.7],[1993.08,5.1],[1993.16,6.5],[1993.25,5.4],[1993.33,4.0],[1993.40,1.8],[1993.50,-0.7],[1993.57,-1.7],[1993.66,3.4],[1993.74,4.0],[1993.83,3.2],[1993.91,3.9],[1993.98,4.7],[1994.06,7.4],[1994.15,12.1],[1994.25,12.7],[1994.32,13.0],[1994.42,9.6],[1994.49,7.7],[1994.59,13.0],[1994.66,16.2],[1994.74,15.5],[1994.83,12.7],[1994.91,14.1],[1995.00,19.7],[1995.08,21.9],[1995.16,24.4],[1995.25,24.0],[1995.32,19.1],[1995.42,11.8],[1995.50,4.0],[1995.59,7.9],[1995.66,13.8],[1995.74,13.0],[1995.83,11.3],[1995.91,11.3],[1995.98,12.4],[1996.08,16.6],[1996.17,21.3],[1996.26,22.0],[1996.34,16.3],[1996.41,8.5],[1996.49,-8.3],[1996.58,-15.0],[1996.66,-22.4],[1996.75,-21.4],[1996.79,-20.0],[1996.89,-16.6],[1996.98,-14.4],[1997.08,-9.4],[1997.17,-3.8],[1997.23,5.8],[1997.30,5.4],[1997.38,3.5],[1997.49,0],[1997.58,1.2],[1997.68,2.9],[1997.81,7.9],[1997.89,12.4],[1998.00,19.7],[1998.09,23.6],[1998.17,26.4],[1998.23,29.4],[1998.30,29.4],[1998.34,28.0],[1998.40,21.3],[1998.45,16.3],[1998.50,13.5],[1998.58,14.6],[1998.66,18.7],[1998.74,18.0],[1998.83,16.3],[1998.92,16.7],[1999.00,17.1],[1999.08,15.2],[1999.15,13.0],[1999.25,13.8],[1999.34,8.5],[1999.42,4.6],[1999.49,1.5],[1999.58,1.8],[1999.66,5.9],[1999.74,4.6],[1999.83,1.6],[1999.92,3.5],[2000.00,1.8],[2000.08,2.6],[2000.17,5.0],[2000.25,5.1],[2000.34,4.0],[2000.43,5.3],[2000.51,0.7],[2000.58,0],[2000.66,2.6],[2000.75,5.1],[2000.83,6.8],[2000.91,1.8],[2001.02,-1.3],[2001.08,-0.4],[2001.15,-2.1],[2001.25,-2.8],[2001.34,-2.4],[2001.42,-2.8],[2001.53,-1.3],[2001.67,1.7],[2001.74,0.3],[2001.91,3.4],[2002.00,-0.2],[2002.08,1.7],[2002.21,1.4],[2002.34,1.5],[2002.42,-2.1],[2002.50,-5.8],[2002.58,-3.2],[2002.67,-0.9],[2002.74,-0.9],[2002.85,-3.0],[2002.92,-3.2],[2003.00,-3.2],[2003.08,-2.7],[2003.17,-3.5],[2003.26,-5.4],[2003.34,-6.0],[2003.42,-9.7],[2003.50,-12.2],[2003.60,-9.7],[2003.68,-3.8],[2003.77,-1.7],[2003.87,-2.5],[2004.00,-4.4],[2004.09,-4.1],[2004.17,-4.9],[2004.26,-9.8],[2004.34,-6.9],[2004.42,-6.5],[2004.51,-10.2],[2004.58,-6.6],[2004.67,-3.7],[2004.77,-6.0],[2004.81,-6.0],[2004.94,-7.7],[2005.08,-8.3],[2005.17,-7.7],[2005.26,-6.1],[2005.34,-6.6],[2005.42,-5.2],[2005.50,-6.9],[2005.58,-3.8],[2005.66,-1.8],[2005.74,-1.8],[2005.83,-6.0],[2005.91,-6.3],[2006.00,-7.7],[2006.08,-12.2],[2006.17,-15.5],[2006.25,-15.4],[2006.33,-14.3],[2006.41,-16.2],[2006.51,-14.4],[2006.58,-10.8],[2006.68,-7.4],[2006.75,-6.3],[2006.83,-6.7],[2006.91,-5.5],[2007.00,-3.2],[2007.08,-6.6],[2007.17,-3.2],[2007.25,-0.4],[2007.34,-4.4],[2007.43,-4.6],[2007.51,-5.9],[2007.58,-1.0],[2007.67,4.7],[2007.75,5.0],[2007.81,1.5],[2007.91,-2.7],[2008.00,-7.2],[2008.09,-10.6],[2008.19,-10.2],[2008.26,-9.4],[2008.34,-7.8],[2008.43,-8.4],[2008.51,-8.0],[2008.58,-3.2],[2008.68,2.8],[2008.83,2.5],[2008.92,2.1],[2009.00,-3.2],[2009.09,-7.4],[2009.17,-8.4],[2009.25,-8.1],[2009.34,-7.8],[2009.50,-8.6],
];

const yearTicks = [1994, 1996, 1998, 2000, 2002, 2004, 2006, 2008];
// upper-panel year labels that sit fully behind the annotation box and the legend
const upperHiddenYears = [1998, 2000, 2002, 2008];
const valueTicks = [-30, -20, -10, 0, 10, 20, 30];
const epochDomain: [number, number] = [1992.5, 2009.5];
const valueDomain: [number, number] = [-30, 30];

const seriesNames = ['NCEP.HE', 'GLDAS(Yan).HE)', 'ECMWF.HE', 'GLDAS.HE'];
const seriesColors = ['#00ff00', '#00ffff', '#0000ff', '#ff0000'];

// ---------- drawing ----------

const FONT = "'Liberation Sans', Arial, Helvetica, sans-serif";
const STRETCH = 1.56; // the figure's lettering is widened horizontally

// plot box inside each panel's svg
const CHART_W = 1604;
const BOX_LEFT = 95;
const BOX_RIGHT = 1603;
const BOX_TOP = 14;
const BOX_BOTTOM = 372;
const X_TICK_LEN = 10;
const Y_TICK_LEN = 15.6;

const toPoints = (arr: [number, number][]) => arr.map(([t, v]) => ({ t, v }));

// year ticks: inward marks on the bottom and top edges plus the label
const makeXTick = (hidden: number[]) => (props: any) => {
  const { x, payload } = props;
  const showLabel = !hidden.includes(payload.value);
  return (
    <g>
      <line x1={x} x2={x} y1={BOX_BOTTOM} y2={BOX_BOTTOM - X_TICK_LEN} stroke="#000" />
      <line x1={x} x2={x} y1={BOX_TOP} y2={BOX_TOP + X_TICK_LEN} stroke="#000" />
      {showLabel && (
        <text
          transform={`translate(${x},${BOX_BOTTOM + 20}) scale(${STRETCH},1)`}
          textAnchor="middle"
          fontSize={13}
          fontFamily={FONT}
          fill="#000"
        >
          {payload.value}
        </text>
      )}
    </g>
  );
};

// value ticks: inward marks on the left and right edges plus the label
const YTick = (props: any) => {
  const { y, payload } = props;
  return (
    <g>
      <line x1={BOX_LEFT} x2={BOX_LEFT + Y_TICK_LEN} y1={y} y2={y} stroke="#000" />
      <line x1={BOX_RIGHT} x2={BOX_RIGHT - Y_TICK_LEN} y1={y} y2={y} stroke="#000" />
      <text
        transform={`translate(89.5,${y + 4.6}) scale(${STRETCH},1)`}
        textAnchor="end"
        fontSize={13}
        fontFamily={FONT}
        fill="#000"
      >
        {payload.value}
      </text>
    </g>
  );
};

const NoTick = () => <g />;

type PanelProps = {
  series: [number, number][][];
  height: number;
  axisHeight: number;
  hiddenYears: number[];
};

const Panel = ({ series, height, axisHeight, hiddenYears }: PanelProps) => (
  <LineChart
    width={CHART_W}
    height={height}
    margin={{ top: BOX_TOP, right: CHART_W - BOX_RIGHT, bottom: 0, left: 0 }}
  >
    <XAxis
      xAxisId="bottom"
      dataKey="t"
      type="number"
      domain={epochDomain}
      ticks={yearTicks}
      allowDataOverflow
      orientation="bottom"
      height={axisHeight}
      tickLine={false}
      tick={makeXTick(hiddenYears)}
      axisLine={{ stroke: '#000' }}
    />
    <XAxis
      xAxisId="top"
      dataKey="t"
      type="number"
      domain={epochDomain}
      ticks={yearTicks}
      allowDataOverflow
      orientation="top"
      height={0}
      tickLine={false}
      tick={NoTick}
      axisLine={{ stroke: '#000' }}
    />
    <YAxis
      yAxisId="left"
      type="number"
      domain={valueDomain}
      ticks={valueTicks}
      allowDataOverflow
      width={BOX_LEFT}
      tickLine={false}
      tick={YTick}
      axisLine={{ stroke: '#000' }}
    />
    <YAxis
      yAxisId="right"
      orientation="right"
      type="number"
      domain={valueDomain}
      ticks={valueTicks}
      allowDataOverflow
      width={0}
      tickLine={false}
      tick={NoTick}
      axisLine={{ stroke: '#000' }}
    />
    {series.map((s, i) => (
      <Line
        key={seriesNames[i]}
        xAxisId="bottom"
        yAxisId="left"
        data={toPoints(s)}
        dataKey="v"
        type="linear"
        stroke={seriesColors[i]}
        strokeWidth={1}
        dot={false}
        activeDot={false}
        isAnimationActive={false}
      />
    ))}
  </LineChart>
);

const AxisTitle = ({ x, y, sub }: { x: number; y: number; sub: string }) => (
  <text
    transform={`translate(${x},${y}) rotate(-90) scale(1,${STRETCH})`}
    textAnchor="middle"
    fontSize={14}
    fontFamily={FONT}
    fill="#000"
  >
    Δχ<tspan fontSize={10} dy={3}>{sub}</tspan>
    <tspan dy={-3}> ( mas )</tspan>
  </text>
);

const legendRows = [332, 354.7, 377.3, 400];

export default function App() {
  return (
    <div
      style={{
        position: 'absolute',
        left: 0,
        top: 0,
        width: 1594,
        height: 818,
        overflow: 'hidden',
        background: '#fff',
      }}
    >
      <div style={{ position: 'absolute', left: 0, top: 0 }}>
        <Panel
          series={[chi1Ncep, chi1GldasYan, chi1Ecmwf, chi1Gldas]}
          height={400}
          axisHeight={28}
          hiddenYears={upperHiddenYears}
        />
      </div>
      <div style={{ position: 'absolute', left: 0, top: 401 }}>
        <Panel
          series={[chi2Ncep, chi2GldasYan, chi2Ecmwf, chi2Gldas]}
          height={417}
          axisHeight={45}
          hiddenYears={[]}
        />
      </div>
      <svg
        width={1594}
        height={818}
        style={{ position: 'absolute', left: 0, top: 0, pointerEvents: 'none' }}
      >
        <AxisTitle x={29} y={203} sub="1" />
        <AxisTitle x={29} y={606} sub="2" />
        <text
          transform={`translate(848,811) scale(1.49,1)`}
          textAnchor="middle"
          fontSize={14}
          fontFamily={FONT}
          fill="#000"
        >
          Epoch ( year )
        </text>

        {/* legend */}
        <rect x={1330.5} y={318.5} width={259} height={95} fill="#fff" stroke="#000" strokeWidth={1} />
        {seriesNames.map((name, i) => (
          <g key={name}>
            <line
              x1={1343}
              x2={1408}
              y1={legendRows[i]}
              y2={legendRows[i]}
              stroke={seriesColors[i]}
              strokeWidth={1.4}
              strokeOpacity={0.75}
            />
            <text
              transform={`translate(1415,${legendRows[i] + 5.4}) scale(1.4,1)`}
              fontSize={15}
              fontFamily={FONT}
              fill="#000"
            >
              {name}
            </text>
          </g>
        ))}

        {/* annotation */}
        <rect x={511} y={319} width={618} height={97} fill="#ffff00" stroke="#ff3300" strokeWidth={2} />
        <text
          x={820}
          y={397}
          textAnchor="middle"
          fontSize={64}
          fontWeight="bold"
          fontFamily={FONT}
          fill="#ff3300"
          textLength={519}
          lengthAdjust="spacingAndGlyphs"
        >
          Poor agreements!
        </text>
      </svg>
    </div>
  );
}
